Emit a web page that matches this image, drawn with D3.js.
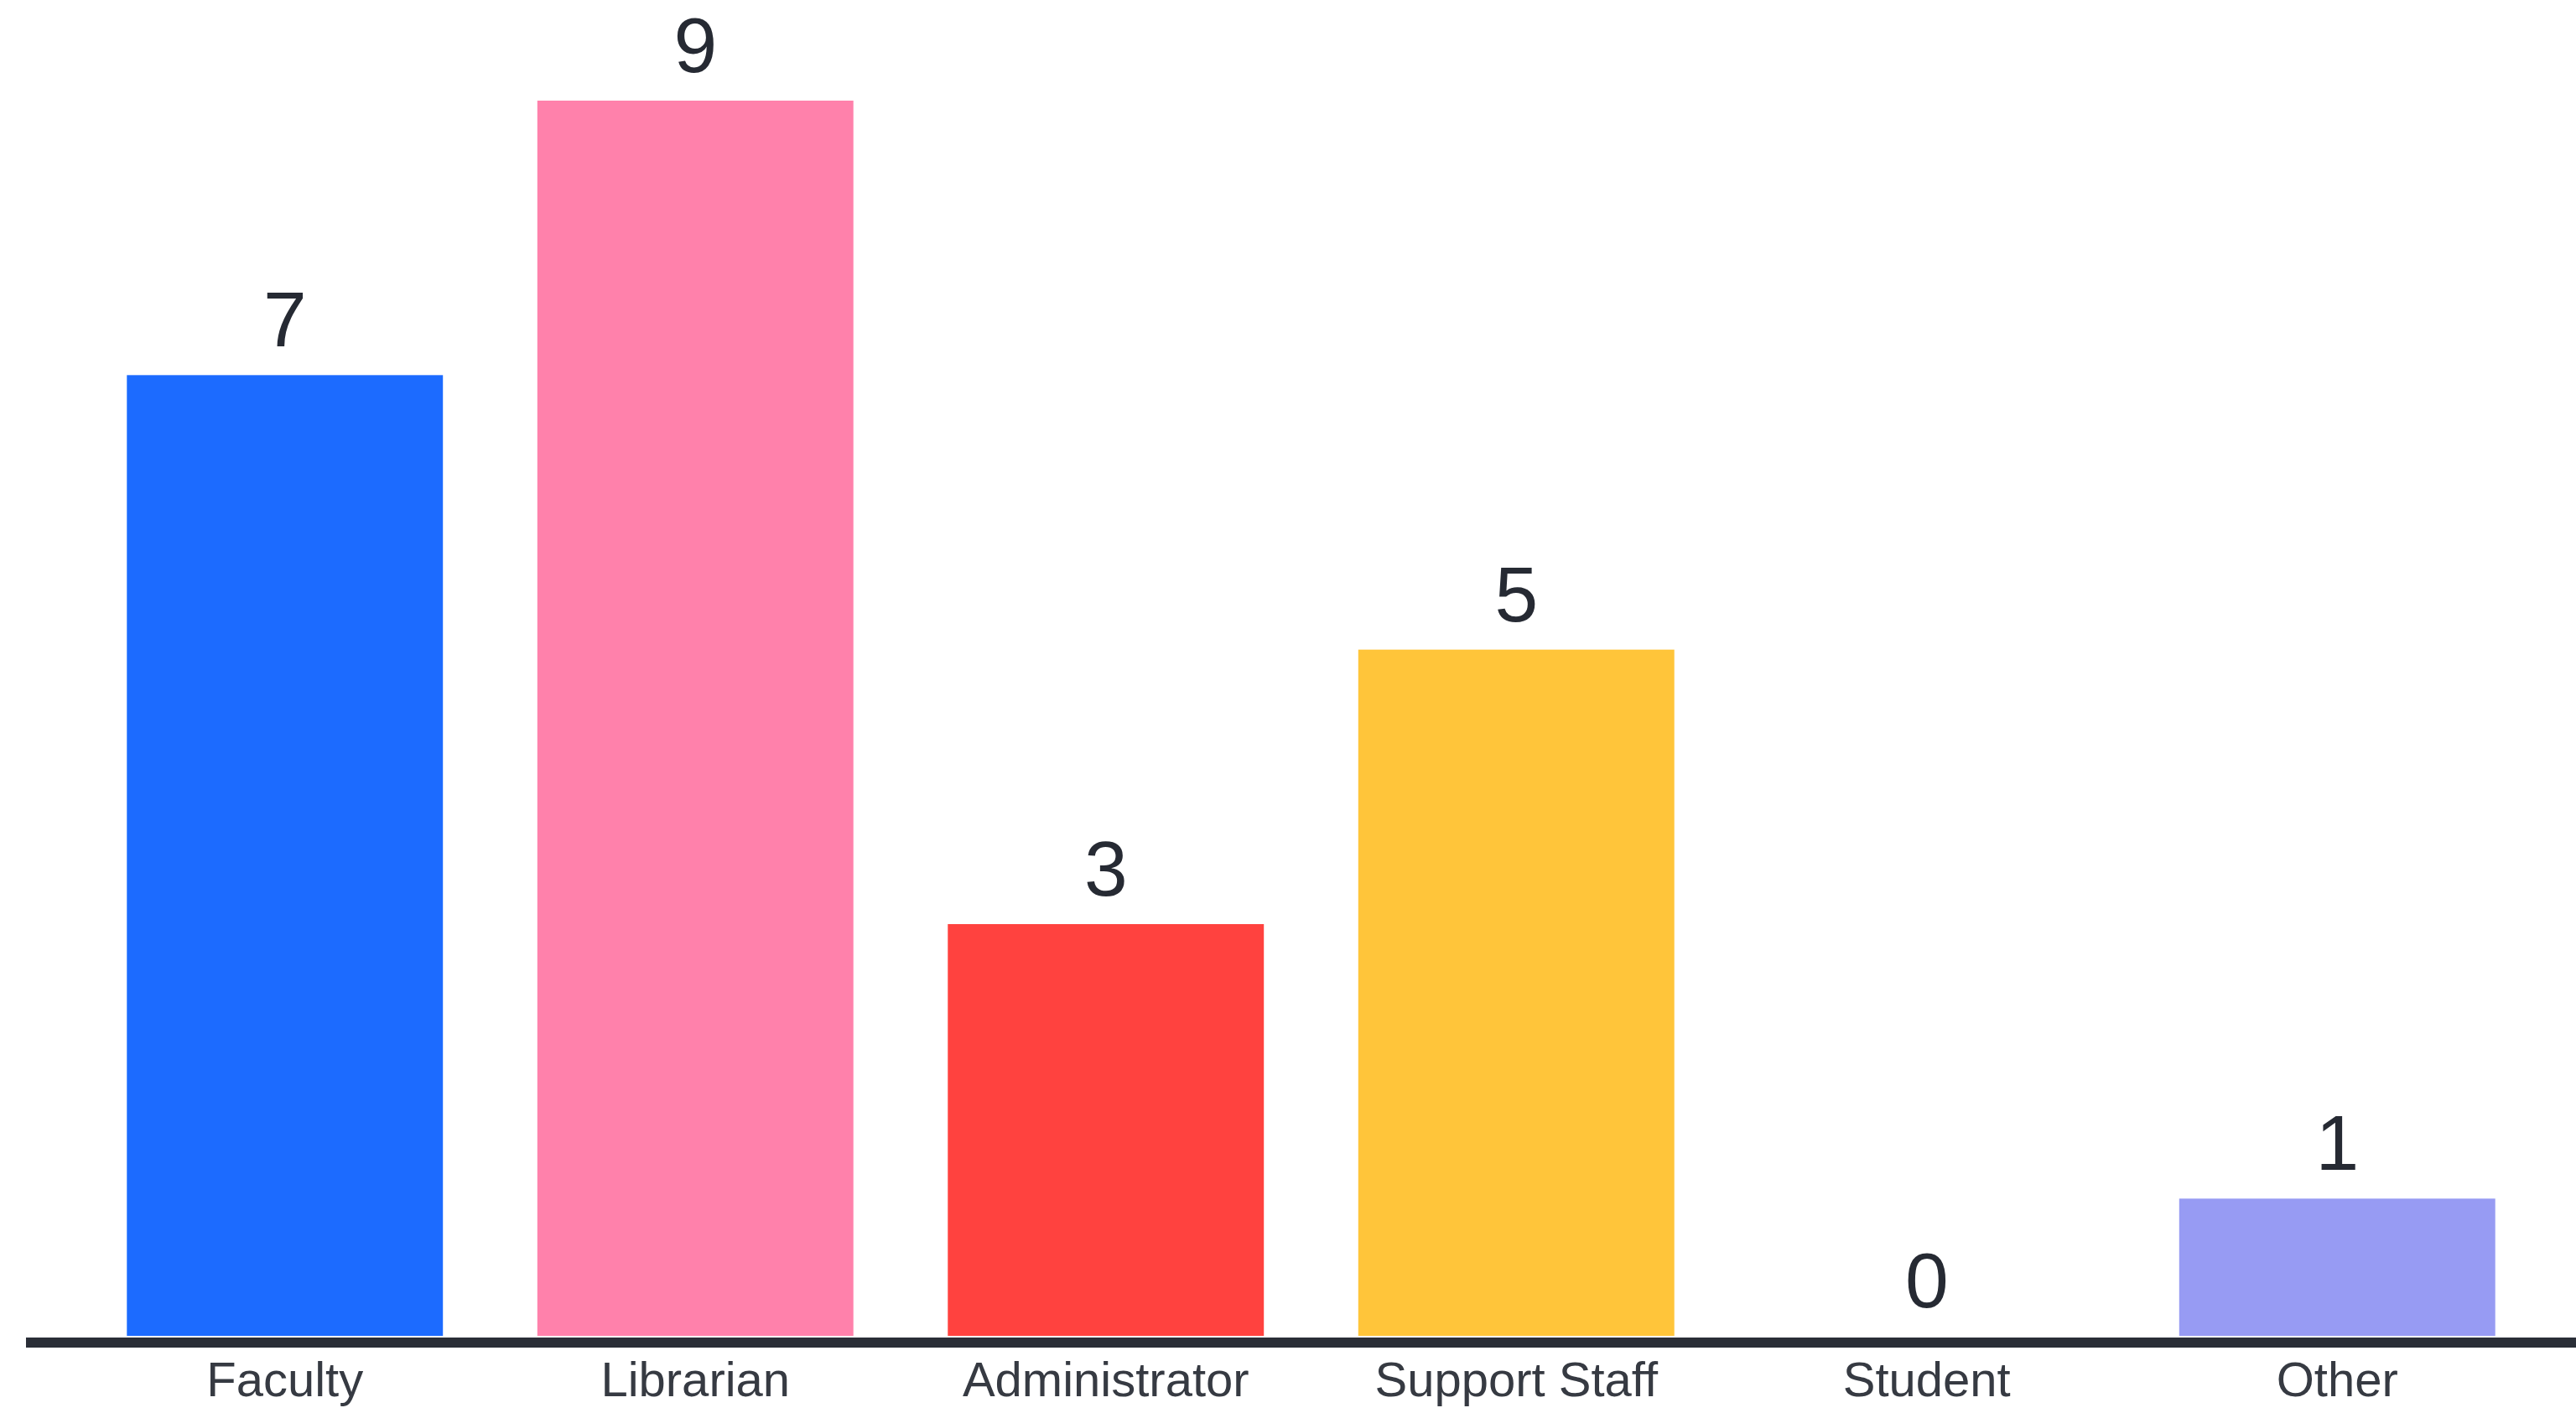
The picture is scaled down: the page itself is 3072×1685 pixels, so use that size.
<!DOCTYPE html>
<html>
<head>
<meta charset="utf-8">
<script src="https://cdn.jsdelivr.net/npm/d3@7"></script>
<style>
  html, body { margin: 0; padding: 0; background: #ffffff; }
  svg { display: block; }
</style>
</head>
<body>
<svg id="chart" width="3072" height="1685"></svg>
<script>
const categories = ["Faculty", "Librarian", "Administrator", "Support Staff", "Student", "Other"];
const values = [7, 9, 3, 5, 0, 1];
const colors = ["#1c6bff", "#ff81ab", "#ff423f", "#ffc53a", "#ffffff", "#979bf3"];

const svg = d3.select("#chart");

const x = d3.scaleBand()
  .domain(categories)
  .range([95, 3032])
  .paddingInner(0.23)
  .paddingOuter(0.115);

const y = d3.scaleLinear()
  .domain([0, 9])
  .range([1593, 120]);

// bars
svg.append("g")
  .selectAll("rect")
  .data(categories)
  .join("rect")
  .attr("x", d => x(d))
  .attr("width", x.bandwidth())
  .attr("y", (d, i) => y(values[i]))
  .attr("height", (d, i) => y(0) - y(values[i]))
  .attr("fill", (d, i) => colors[i]);

// baseline
svg.append("line")
  .attr("x1", 31)
  .attr("x2", 3072)
  .attr("y1", y(0) + 8)
  .attr("y2", y(0) + 8)
  .attr("stroke", "#2a2e37")
  .attr("stroke-width", 12);

// value labels
svg.append("g")
  .selectAll("text")
  .data(categories)
  .join("text")
  .attr("x", d => x(d) + x.bandwidth() / 2)
  .attr("y", (d, i) => y(values[i]) - 34)
  .attr("text-anchor", "middle")
  .attr("font-family", "'Liberation Sans', Arial, sans-serif")
  .attr("font-size", 93)
  .attr("fill", "#262a33")
  .text((d, i) => values[i]);

// category labels via axis
const axis = svg.append("g")
  .attr("transform", `translate(0, ${y(0) + 14})`)
  .call(d3.axisBottom(x).tickSize(0).tickPadding(0));
axis.select(".domain").remove();
axis.selectAll("text")
  .attr("dy", null)
  .attr("y", 58)
  .attr("font-family", "'Liberation Sans', Arial, sans-serif")
  .attr("font-size", 58)
  .attr("fill", "#363a42");
</script>
</body>
</html>
